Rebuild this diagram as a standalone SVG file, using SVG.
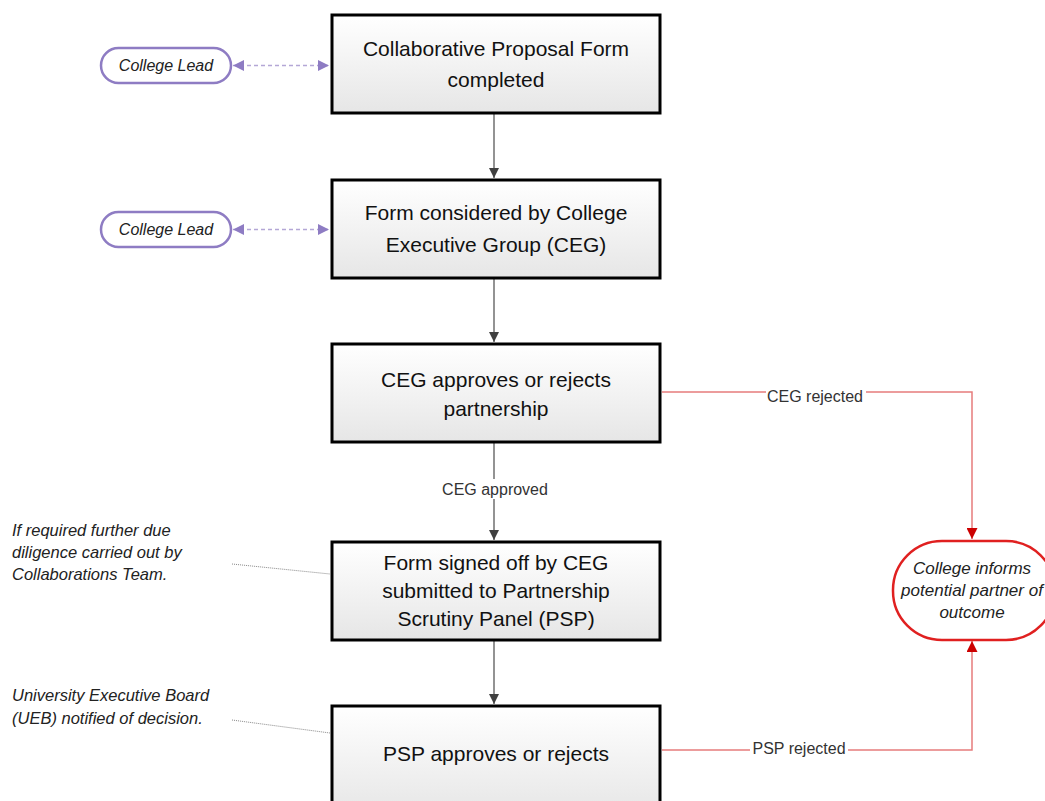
<svg xmlns="http://www.w3.org/2000/svg" width="1045" height="801" viewBox="0 0 1045 801">
  <style>
    .box { fill: url(#boxFill); stroke: #000; stroke-width: 3; }
    .boxText { font-family: "Liberation Sans", Arial, sans-serif; font-size: 21px; fill: #111; text-anchor: middle; }
    .pill { fill: #fff; stroke: #8e7cc3; stroke-width: 2.5; }
    .pillText { font-family: "Liberation Sans", Arial, sans-serif; font-size: 16px; font-style: italic; fill: #222; text-anchor: middle; }
    .termText { font-family: "Liberation Sans", Arial, sans-serif; font-size: 17px; font-style: italic; fill: #222; text-anchor: middle; }
    .note { font-family: "Liberation Sans", Arial, sans-serif; font-size: 16.5px; font-style: italic; fill: #222; }
    .flow { stroke: #595959; stroke-width: 1.3; fill: none; marker-end: url(#arrowGrey); }
    .reject { stroke: #e67c7c; stroke-width: 1.5; fill: none; marker-end: url(#arrowRed); }
    .link { stroke: #b4a7d6; stroke-width: 1.5; stroke-dasharray: 4 3; fill: none; marker-start: url(#arrowPurpleStart); marker-end: url(#arrowPurple); }
    .leader { stroke: #888; stroke-width: 1; stroke-dasharray: 1 1; fill: none; }
    .label { font-family: "Liberation Sans", Arial, sans-serif; font-size: 16px; fill: #333; text-anchor: middle; }
    .terminal { fill: #fff; stroke: #e02020; stroke-width: 2.5; }
  </style>
  <defs>
    <linearGradient id="boxFill" x1="0" y1="0" x2="0" y2="1">
      <stop offset="0" stop-color="#ffffff"/>
      <stop offset="1" stop-color="#e6e6e6"/>
    </linearGradient>
    <marker id="arrowGrey" viewBox="0 0 10 10" refX="10" refY="5" markerWidth="10" markerHeight="10" markerUnits="userSpaceOnUse" orient="auto">
      <path d="M0,0 L10,5 L0,10 z" fill="#404040"/>
    </marker>
    <marker id="arrowRed" viewBox="0 0 10 10" refX="10" refY="5" markerWidth="11" markerHeight="11" markerUnits="userSpaceOnUse" orient="auto">
      <path d="M0,0 L10,5 L0,10 z" fill="#cc0000"/>
    </marker>
    <marker id="arrowPurple" viewBox="0 0 10 10" refX="10" refY="5" markerWidth="11" markerHeight="11" markerUnits="userSpaceOnUse" orient="auto">
      <path d="M0,0 L10,5 L0,10 z" fill="#8e7cc3"/>
    </marker>
    <marker id="arrowPurpleStart" viewBox="0 0 10 10" refX="0" refY="5" markerWidth="11" markerHeight="11" markerUnits="userSpaceOnUse" orient="auto">
      <path d="M10,0 L0,5 L10,10 z" fill="#8e7cc3"/>
    </marker>
  </defs>

  <rect width="1045" height="801" fill="#fff"/>

  <!-- connectors -->
  <g id="connectors">
    <line class="link" x1="233" y1="65.5" x2="329" y2="65.5"/>
    <line class="link" x1="233" y1="229.5" x2="329" y2="229.5"/>
    <line class="flow" x1="494" y1="113" x2="494" y2="178"/>
    <line class="flow" x1="494" y1="278" x2="494" y2="342"/>
    <line class="flow" x1="494" y1="442" x2="494" y2="540"/>
    <line class="flow" x1="494" y1="640" x2="494" y2="704"/>
    <polyline class="reject" points="662,392 972,392 972,539"/>
    <polyline class="reject" points="662,750 972,750 972,641"/>
    <path class="leader" d="M232,564 L330,574"/>
    <path class="leader" d="M232,720 L330,733"/>
    <rect x="440" y="479" width="110" height="20" fill="#fff"/>
    <text class="label" x="495" y="495">CEG approved</text>
    <rect x="766" y="386" width="100" height="16" fill="#fff"/>
    <text class="label" x="815" y="402">CEG rejected</text>
    <rect x="750" y="742" width="98" height="16" fill="#fff"/>
    <text class="label" x="799" y="754">PSP rejected</text>
  </g>

  <g id="college-lead-1">
    <rect class="pill" x="101" y="48" width="130" height="35" rx="17.5"/>
    <text class="pillText" x="166" y="71">College Lead</text>
  </g>
  <g id="college-lead-2">
    <rect class="pill" x="101" y="212" width="130" height="35" rx="17.5"/>
    <text class="pillText" x="166" y="235">College Lead</text>
  </g>

  <g id="proposal-form">
    <rect class="box" x="332" y="15" width="328" height="98"/>
    <text class="boxText" x="496" y="56">Collaborative Proposal Form</text>
    <text class="boxText" x="496" y="87">completed</text>
  </g>
  <g id="ceg-considers">
    <rect class="box" x="332" y="180" width="328" height="98"/>
    <text class="boxText" x="496" y="220">Form considered by College</text>
    <text class="boxText" x="496" y="252">Executive Group (CEG)</text>
  </g>
  <g id="ceg-decision">
    <rect class="box" x="332" y="344" width="328" height="98"/>
    <text class="boxText" x="496" y="387">CEG approves or rejects</text>
    <text class="boxText" x="496" y="416">partnership</text>
  </g>
  <g id="psp-submission">
    <rect class="box" x="332" y="542" width="328" height="98"/>
    <text class="boxText" x="496" y="570">Form signed off by CEG</text>
    <text class="boxText" x="496" y="598">submitted to Partnership</text>
    <text class="boxText" x="496" y="626">Scrutiny Panel (PSP)</text>
  </g>
  <g id="psp-decision">
    <rect class="box" x="332" y="706" width="328" height="110"/>
    <text class="boxText" x="496" y="761">PSP approves or rejects</text>
  </g>

  <g id="partner-informed">
    <rect class="terminal" x="893" y="541" width="162" height="99" rx="49"/>
    <text class="termText" x="972" y="574">College informs</text>
    <text class="termText" x="972" y="596">potential partner of</text>
    <text class="termText" x="972" y="618">outcome</text>
  </g>

  <g id="note-due-diligence">
    <text class="note" x="12" y="536">If required further due</text>
    <text class="note" x="12" y="558">diligence carried out by</text>
    <text class="note" x="12" y="580">Collaborations Team.</text>
  </g>
  <g id="note-ueb">
    <text class="note" x="12" y="701">University Executive Board</text>
    <text class="note" x="12" y="724">(UEB) notified of decision.</text>
  </g>
</svg>
